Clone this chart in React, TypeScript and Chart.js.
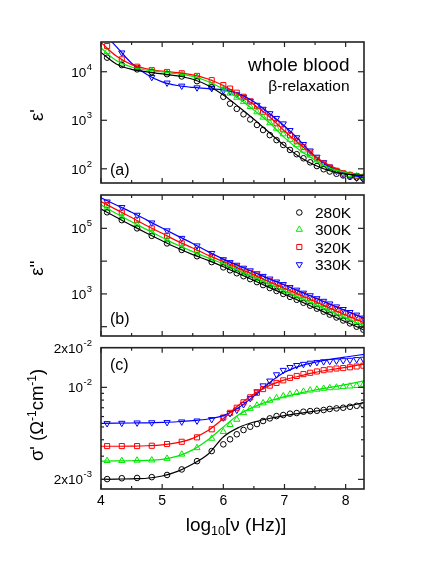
import { useEffect, useRef } from 'react';
import { Chart, registerables } from 'chart.js';

Chart.register(...registerables);

const FONT = '"Liberation Sans", Arial, Helvetica, sans-serif';

// ---------------- data ----------------
const TEMPS = ['280K', '300K', '320K', '330K'];

// measured frequencies, log10(nu / Hz)
const X_MEAS = [4.1, 4.34, 4.59, 4.83, 5.08, 5.32, 5.57, 5.81, 6.0, 6.11, 6.22, 6.33, 6.44, 6.55, 6.65,
  6.76, 6.87, 6.98, 7.09, 7.2, 7.31, 7.42, 7.53, 7.64, 7.74, 7.85, 7.96, 8.07, 8.18, 8.29];
// fit curve sampling, log10(nu / Hz)
const X_FIT = [4.0, 4.25, 4.5, 4.75, 5.0, 5.25, 5.5, 5.75, 6.0, 6.25, 6.5, 6.75, 7.0, 7.25, 7.5, 7.75, 8.0, 8.3];

// (a) eps'
const EPS1_280 = [19500, 13700, 11200, 9800, 8900, 8000, 6400, 4800, 3050, 2200, 1720, 1330, 1040, 800, 630,
  495, 390, 310, 245, 200, 165, 136, 114, 98, 88, 79, 73, 69, 66, 63];
const EPS1_300 = [25800, 14900, 11700, 10300, 9300, 8800, 7700, 5800, 4300, 3600, 2950, 2400, 1900, 1480, 1150,
  880, 680, 520, 400, 310, 240, 190, 150, 120, 100, 88, 80, 75, 71, 68];
const EPS1_320 = [33900, 18000, 12700, 10800, 9900, 9300, 8200, 6700, 5300, 4500, 3700, 3050, 2450, 1950, 1500,
  1150, 870, 650, 490, 370, 280, 215, 165, 128, 106, 91, 81, 75, 71, 68];
const EPS1_330 = [null, 24600, 12300, 7700, 5900, 5100, 4700, 4550, 4100, 3900, 3400, 3000, 2500, 2050, 1700,
  1380, 1100, 850, 620, 440, 320, 235, 175, 135, 110, 90, 78, 70, 65, 61];
const EPS1_FIT_280 = [25000, 14500, 11200, 9900, 9000, 8200, 7000, 5200, 3300, 1900, 1050, 560, 300, 175, 118, 90, 78, 73];
const EPS1_FIT_300 = [31000, 17000, 12500, 10800, 9900, 9100, 8000, 6300, 4400, 2800, 1620, 900, 440, 240, 150, 102, 84, 72];
const EPS1_FIT_320 = [40000, 21000, 14000, 11500, 10300, 9600, 8600, 7100, 5200, 3400, 2100, 1200, 600, 320, 180, 115, 86, 74];
const EPS1_FIT_330 = [70000, 33000, 15000, 8800, 6200, 5200, 4750, 4500, 4200, 3500, 2400, 1400, 760, 380, 180, 108, 80, 66];

// (b) eps''
const EPS2_280 = [309000, 178000, 100000, 59000, 34700, 21900, 14100, 9330, 6460, 5250, 4270, 3470, 2820, 2290, 1860,
  1510, 1230, 1000, 813, 661, 537, 437, 355, 288, 234, 191, 155, 126, 100, 81];
const EPS2_300 = [407000, 224000, 132000, 75900, 43700, 26300, 17400, 11500, 8130, 6610, 5370, 4370, 3550, 2880, 2340,
  1910, 1550, 1260, 1020, 851, 692, 562, 457, 372, 302, 245, 200, 162, 132, 107];
const EPS2_320 = [513000, 302000, 178000, 100000, 58900, 34700, 21900, 13500, 9550, 7940, 6460, 5370, 4370, 3630, 2950,
  2450, 2000, 1660, 1350, 1120, 912, 741, 617, 501, 407, 339, 275, 224, 186, 151];
const EPS2_330 = [646000, 437000, 254000, 148000, 85100, 50100, 29500, 17400, 11200, 9120, 7590, 6170, 5130, 4170, 3470,
  2880, 2340, 1950, 1580, 1320, 1070, 891, 724, 603, 501, 407, 339, 275, 229, 186];
const EPS2_FIT_280 = [389000, 219000, 123000, 70800, 41700, 25100, 15800, 10500, 6760, 4170, 2570, 1580, 977, 603, 372, 229, 141, 79];
const EPS2_FIT_300 = [525000, 282000, 158000, 91200, 52500, 30900, 19500, 12600, 8320, 5130, 3240, 2000, 1230, 759, 479, 295, 186, 105];
const EPS2_FIT_320 = [661000, 372000, 214000, 120000, 70800, 40700, 25100, 15100, 9770, 6030, 3800, 2340, 1480, 933, 589, 363, 229, 132];
const EPS2_FIT_330 = [851000, 513000, 309000, 178000, 102000, 58900, 34700, 19500, 11500, 7240, 4570, 2880, 1860, 1170, 759, 479, 309, 182];

// (c) sigma' (Ohm^-1 cm^-1)
const SIG_280 = [2.01e-3, 2.04e-3, 2.05e-3, 2.08e-3, 2.16e-3, 2.38e-3, 2.75e-3, 3.28e-3, 3.69e-3, 4.03e-3, 4.4e-3, 4.74e-3,
  5.02e-3, 5.26e-3, 5.55e-3, 5.81e-3, 6.05e-3, 6.16e-3, 6.31e-3, 6.38e-3, 6.53e-3, 6.6e-3, 6.64e-3, 6.73e-3, 6.85e-3,
  6.92e-3, 7.0e-3, 7.12e-3, 7.24e-3, 7.3e-3];
const SIG_300 = [2.77e-3, 2.77e-3, 2.79e-3, 2.8e-3, 2.88e-3, 3.1e-3, 3.47e-3, 4.09e-3, 4.6e-3, 5.2e-3, 5.7e-3, 6.4e-3,
  6.9e-3, 7.3e-3, 7.6e-3, 7.95e-3, 8.3e-3, 8.6e-3, 8.85e-3, 9.1e-3, 9.3e-3, 9.5e-3, 9.65e-3, 9.8e-3, 9.9e-3,
  1.0e-2, 1.01e-2, 1.02e-2, 1.03e-2, 1.05e-2];
const SIG_320 = [3.58e-3, 3.58e-3, 3.58e-3, 3.6e-3, 3.71e-3, 3.86e-3, 4.17e-3, 4.8e-3, 5.9e-3, 6.4e-3, 7.0e-3, 7.7e-3,
  8.4e-3, 9.1e-3, 9.7e-3, 1.03e-2, 1.08e-2, 1.13e-2, 1.18e-2, 1.22e-2, 1.26e-2, 1.29e-2, 1.32e-2, 1.35e-2, 1.37e-2,
  1.39e-2, 1.40e-2, 1.42e-2, 1.44e-2, 1.46e-2];
const SIG_330 = [5.32e-3, 5.35e-3, 5.38e-3, 5.4e-3, 5.42e-3, 5.48e-3, 5.57e-3, 5.71e-3, 5.88e-3, 6.34e-3, 6.73e-3, 7.42e-3,
  8.25e-3, 9.27e-3, 1.03e-2, 1.12e-2, 1.25e-2, 1.35e-2, 1.42e-2, 1.47e-2, 1.5e-2, 1.53e-2, 1.55e-2, 1.57e-2, 1.58e-2,
  1.59e-2, 1.6e-2, 1.61e-2, 1.63e-2, 1.64e-2];
const SIG_FIT_280 = [2.0e-3, 2.01e-3, 2.02e-3, 2.04e-3, 2.12e-3, 2.3e-3, 2.62e-3, 3.1e-3, 4.2e-3, 4.95e-3, 5.45e-3, 5.8e-3, 6.1e-3, 6.35e-3, 6.6e-3, 6.85e-3, 7.15e-3, 7.65e-3];
const SIG_FIT_300 = [2.75e-3, 2.76e-3, 2.77e-3, 2.79e-3, 2.84e-3, 3.0e-3, 3.35e-3, 4.0e-3, 5.0e-3, 6.2e-3, 7.1e-3, 7.85e-3, 8.5e-3, 9.05e-3, 9.55e-3, 1.0e-2, 1.05e-2, 1.12e-2];
const SIG_FIT_320 = [3.57e-3, 3.57e-3, 3.58e-3, 3.6e-3, 3.65e-3, 3.8e-3, 4.1e-3, 4.7e-3, 5.8e-3, 7.3e-3, 8.9e-3, 1.03e-2, 1.14e-2, 1.22e-2, 1.3e-2, 1.36e-2, 1.42e-2, 1.5e-2];
const SIG_FIT_330 = [5.32e-3, 5.34e-3, 5.36e-3, 5.38e-3, 5.42e-3, 5.48e-3, 5.58e-3, 5.75e-3, 6.1e-3, 7.0e-3, 8.6e-3, 1.08e-2, 1.3e-2, 1.45e-2, 1.55e-2, 1.63e-2, 1.7e-2, 1.78e-2];

// ticks
const X_TICKS = [4, 5, 6, 7, 8];
const X_MINOR = [4.5, 5.5, 6.5, 7.5];
const EPS1_TICKS = [1e2, 1e3, 1e4];
const EPS1_LABELS = [{ value: 1e4, base: '10', sup: '4' }, { value: 1e3, base: '10', sup: '3' }, { value: 1e2, base: '10', sup: '2' }];
const EPS2_TICKS = [1e2, 1e3, 1e4, 1e5];
const EPS2_LABELS = [{ value: 1e5, base: '10', sup: '5' }, { value: 1e3, base: '10', sup: '3' }];
const SIG_TICKS = [2e-3, 1e-2];
const SIG_MINOR = [3e-3, 4e-3, 5e-3, 6e-3, 7e-3, 8e-3, 9e-3];
const SIG_LABELS = [{ value: 2e-2, base: '2x10', sup: '-2' }, { value: 1e-2, base: '10', sup: '-2' }, { value: 2e-3, base: '2x10', sup: '-3' }];

// ---------------- styles ----------------
const COLORS = ['#000000', '#00e800', '#ff0000', '#0000ff'];
const MARKS = [
  { pointStyle: 'circle', radius: 2.8, rotation: 0 },
  { pointStyle: 'triangle', radius: 3.6, rotation: 0 },
  { pointStyle: 'rect', radius: 3.6, rotation: 0 },
  { pointStyle: 'triangle', radius: 3.6, rotation: 180 },
];

type Part = { t: string; s?: 'sup' | 'sub' };

interface Panel {
  key: string;
  area: { left: number; right: number; top: number; bottom: number };
  yMin: number;
  yMax: number;
  marks: (number | null)[][];
  fits: number[][];
  yMajor: number[];
  yMinor: number[];
  yLabels: { value: number; base: string; sup: string }[];
  title: Part[];
  titleY: number;
  tag: string;
  tagY: number;
  xLabels: boolean;
  extra?: (ctx: CanvasRenderingContext2D) => void;
}

function drawMarker(ctx: CanvasRenderingContext2D, m: { pointStyle: string; radius: number; rotation: number }, x: number, y: number) {
  const r = m.radius;
  ctx.beginPath();
  if (m.pointStyle === 'circle') {
    ctx.arc(x, y, r, 0, Math.PI * 2);
  } else if (m.pointStyle === 'rect') {
    const s = r * Math.SQRT1_2;
    ctx.rect(x - s, y - s, 2 * s, 2 * s);
  } else {
    let a = (m.rotation * Math.PI) / 180;
    for (let k = 0; k < 3; k++) {
      const px = x + Math.sin(a) * r;
      const py = y - Math.cos(a) * r;
      if (k === 0) ctx.moveTo(px, py);
      else ctx.lineTo(px, py);
      a += (2 * Math.PI) / 3;
    }
  }
  ctx.closePath();
  ctx.stroke();
}

function drawParts(ctx: CanvasRenderingContext2D, parts: Part[], cx: number, y: number, size: number, small: number) {
  const widths = parts.map((p) => {
    ctx.font = `${p.s ? small : size}px ${FONT}`;
    return ctx.measureText(p.t).width;
  });
  const total = widths.reduce((a, b) => a + b, 0);
  let x = cx - total / 2;
  ctx.textAlign = 'left';
  ctx.textBaseline = 'alphabetic';
  parts.forEach((p, i) => {
    ctx.font = `${p.s ? small : size}px ${FONT}`;
    const dy = p.s === 'sup' ? -size * 0.4 : p.s === 'sub' ? size * 0.25 : 0;
    ctx.fillText(p.t, x, y + dy);
    x += widths[i];
  });
}

function drawSupLabel(ctx: CanvasRenderingContext2D, rightX: number, y: number, base: string, sup: string) {
  ctx.textAlign = 'left';
  ctx.textBaseline = 'alphabetic';
  ctx.font = `13.5px ${FONT}`;
  const wb = ctx.measureText(base).width;
  ctx.font = `9.5px ${FONT}`;
  const ws = ctx.measureText(sup).width;
  const x0 = rightX - wb - ws - 0.5;
  ctx.font = `13.5px ${FONT}`;
  ctx.fillText(base, x0, y + 4.8);
  ctx.font = `9.5px ${FONT}`;
  ctx.fillText(sup, x0 + wb + 0.5, y + 4.8 - 6.9);
}

function makePlugin(p: Panel) {
  return {
    id: 'panelDecor' + p.key,
    afterDraw(chart: any) {
      const ctx: CanvasRenderingContext2D = chart.ctx;
      const a = chart.chartArea;
      const xs = chart.scales.x;
      const ys = chart.scales.y;
      ctx.save();
      ctx.strokeStyle = '#222';
      ctx.lineWidth = 1.2;
      const line = (x1: number, y1: number, x2: number, y2: number) => {
        ctx.beginPath();
        ctx.moveTo(x1, y1);
        ctx.lineTo(x2, y2);
        ctx.stroke();
      };
      X_TICKS.forEach((v) => {
        const x = xs.getPixelForValue(v);
        line(x, a.bottom, x, a.bottom - 5);
        line(x, a.top, x, a.top + 5);
      });
      X_MINOR.forEach((v) => {
        const x = xs.getPixelForValue(v);
        line(x, a.bottom, x, a.bottom - 3);
        line(x, a.top, x, a.top + 3);
      });
      p.yMajor.forEach((v) => {
        const y = ys.getPixelForValue(v);
        line(a.left, y, a.left + 6, y);
        line(a.right, y, a.right - 6, y);
      });
      p.yMinor.forEach((v) => {
        const y = ys.getPixelForValue(v);
        line(a.left, y, a.left + 3, y);
        line(a.right, y, a.right - 3, y);
      });
      ctx.lineWidth = 1.6;
      ctx.strokeRect(a.left, a.top, a.right - a.left, a.bottom - a.top);

      ctx.fillStyle = '#000';
      p.yLabels.forEach((l) => drawSupLabel(ctx, a.left - 9, ys.getPixelForValue(l.value), l.base, l.sup));

      // rotated y title
      ctx.save();
      ctx.translate(43, p.titleY);
      ctx.rotate(-Math.PI / 2);
      drawParts(ctx, p.title, 0, 0, 18.5, 12);
      ctx.restore();

      // panel tag
      ctx.font = `16px ${FONT}`;
      ctx.textAlign = 'left';
      ctx.textBaseline = 'alphabetic';
      ctx.fillText(p.tag, a.left + 9, p.tagY);

      if (p.xLabels) {
        ctx.font = `14px ${FONT}`;
        ctx.textAlign = 'center';
        X_TICKS.forEach((v) => ctx.fillText(String(v), xs.getPixelForValue(v), 505));
        drawParts(ctx, [{ t: 'log' }, { t: '10', s: 'sub' }, { t: '[\u03BD (Hz)]' }], 236, 530.5, 19, 12.5);
      }
      if (p.extra) p.extra(ctx);
      ctx.restore();
    },
  };
}

const PANEL_A: Panel = {
  key: 'a',
  area: { left: 101, right: 364, top: 42, bottom: 183 },
  yMin: 51,
  yMax: 4.1e4,
  marks: [EPS1_280, EPS1_300, EPS1_320, EPS1_330],
  fits: [EPS1_FIT_280, EPS1_FIT_300, EPS1_FIT_320, EPS1_FIT_330],
  yMajor: EPS1_TICKS,
  yMinor: [],
  yLabels: EPS1_LABELS,
  title: [{ t: "\u03B5'" }],
  titleY: 115,
  tag: '(a)',
  tagY: 174.5,
  xLabels: false,
  extra: (ctx) => {
    ctx.fillStyle = '#000';
    ctx.textAlign = 'right';
    ctx.textBaseline = 'alphabetic';
    ctx.font = `19px ${FONT}`;
    ctx.fillText('whole blood', 349.5, 70.7);
    ctx.font = `15.5px ${FONT}`;
    ctx.fillText('\u03B2-relaxation', 349.5, 91);
  },
};

const PANEL_B: Panel = {
  key: 'b',
  area: { left: 101, right: 364, top: 195, bottom: 336 },
  yMin: 52,
  yMax: 1.04e6,
  marks: [EPS2_280, EPS2_300, EPS2_320, EPS2_330],
  fits: [EPS2_FIT_280, EPS2_FIT_300, EPS2_FIT_320, EPS2_FIT_330],
  yMajor: EPS2_TICKS,
  yMinor: [],
  yLabels: EPS2_LABELS,
  title: [{ t: "\u03B5''" }],
  titleY: 268,
  tag: '(b)',
  tagY: 323.5,
  xLabels: false,
  extra: (ctx) => {
    const rows = [212.5, 229.5, 247, 264.5];
    ctx.lineWidth = 1;
    TEMPS.forEach((t, i) => {
      ctx.strokeStyle = COLORS[i];
      drawMarker(ctx, MARKS[i], 299.3, rows[i]);
      ctx.fillStyle = '#000';
      ctx.font = `15.5px ${FONT}`;
      ctx.textAlign = 'left';
      ctx.textBaseline = 'alphabetic';
      ctx.fillText(t, 315, rows[i] + 5.6);
    });
  },
};

const PANEL_C: Panel = {
  key: 'c',
  area: { left: 101, right: 364, top: 347.7, bottom: 489 },
  yMin: 1.69e-3,
  yMax: 2e-2,
  marks: [SIG_280, SIG_300, SIG_320, SIG_330],
  fits: [SIG_FIT_280, SIG_FIT_300, SIG_FIT_320, SIG_FIT_330],
  yMajor: SIG_TICKS,
  yMinor: SIG_MINOR,
  yLabels: SIG_LABELS,
  title: [{ t: "\u03C3' (\u03A9" }, { t: '-1', s: 'sup' }, { t: 'cm' }, { t: '-1', s: 'sup' }, { t: ')' }],
  titleY: 415,
  tag: '(c)',
  tagY: 370,
  xLabels: true,
};

function makeChart(canvas: HTMLCanvasElement, p: Panel) {
  const datasets: any[] = [];
  p.fits.forEach((vals, i) => {
    datasets.push({
      data: X_FIT.map((x, k) => ({ x, y: vals[k] })),
      borderColor: COLORS[i],
      borderWidth: 1.2,
      pointRadius: 0,
      cubicInterpolationMode: 'monotone',
      fill: false,
    });
  });
  p.marks.forEach((vals, i) => {
    datasets.push({
      data: X_MEAS.map((x, k) => ({ x, y: vals[k] })),
      showLine: false,
      borderColor: COLORS[i],
      backgroundColor: 'rgba(0,0,0,0)',
      pointStyle: MARKS[i].pointStyle,
      pointRadius: MARKS[i].radius,
      pointRotation: MARKS[i].rotation,
      pointBorderWidth: 1,
      pointBorderColor: COLORS[i],
      pointBackgroundColor: 'rgba(0,0,0,0)',
    });
  });
  return new Chart(canvas, {
    type: 'line',
    data: { datasets },
    options: {
      animation: false,
      responsive: false,
      maintainAspectRatio: false,
      devicePixelRatio: 1,
      events: [],
      layout: {
        padding: { left: p.area.left, right: 436 - p.area.right, top: p.area.top, bottom: 564 - p.area.bottom },
      },
      plugins: { legend: { display: false }, tooltip: { enabled: false }, title: { display: false } },
      scales: {
        x: { type: 'linear', min: 4, max: 8.3, display: false },
        y: { type: 'logarithmic', min: p.yMin, max: p.yMax, display: false },
      },
    } as any,
    plugins: [makePlugin(p)],
  });
}

export default function App() {
  const refA = useRef<HTMLCanvasElement>(null);
  const refB = useRef<HTMLCanvasElement>(null);
  const refC = useRef<HTMLCanvasElement>(null);
  useEffect(() => {
    const charts = [
      makeChart(refA.current!, PANEL_A),
      makeChart(refB.current!, PANEL_B),
      makeChart(refC.current!, PANEL_C),
    ];
    return () => charts.forEach((c) => c.destroy());
  }, []);
  const cs: any = { position: 'absolute', left: 0, top: 0, width: 436, height: 564 };
  return (
    <div style={{ position: 'absolute', left: 0, top: 0, width: 436, height: 564, background: '#fff' }}>
      <canvas ref={refA} width={436} height={564} style={cs} />
      <canvas ref={refB} width={436} height={564} style={cs} />
      <canvas ref={refC} width={436} height={564} style={cs} />
    </div>
  );
}
